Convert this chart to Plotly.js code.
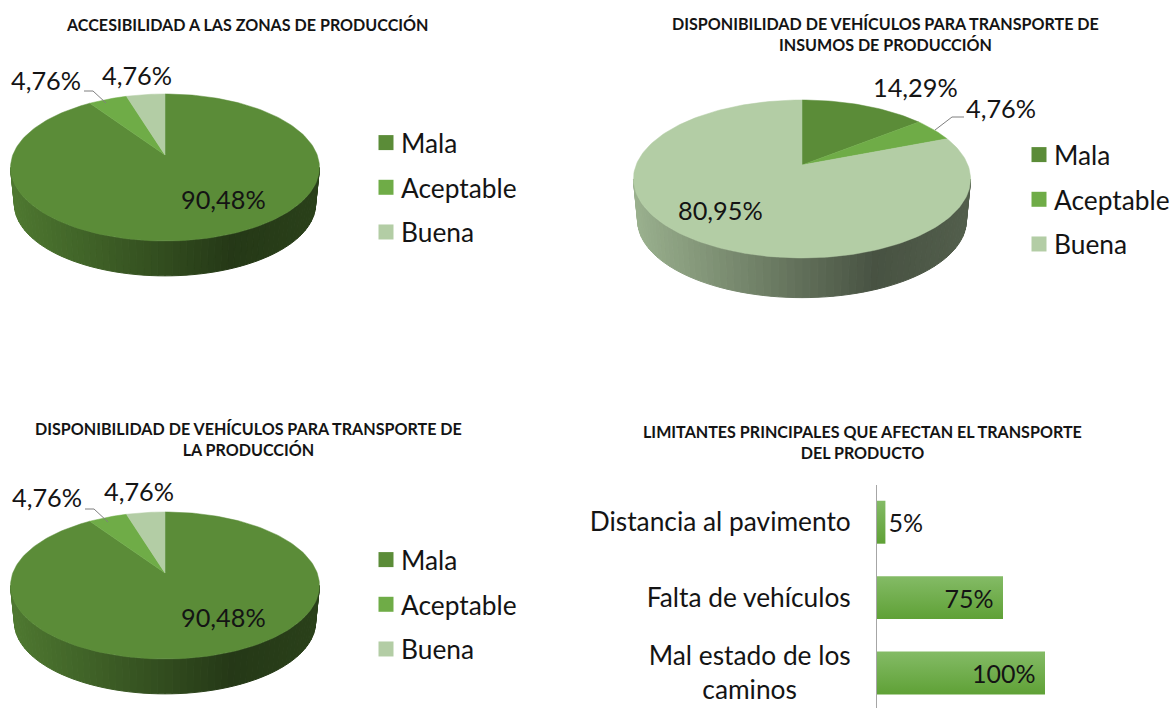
<!DOCTYPE html>
<html><head><meta charset="utf-8">
<script src="https://cdn.plot.ly/plotly-3.0.1.min.js"></script>
<style>html,body{margin:0;padding:0;background:#fff}#c{width:1172px;height:708px}</style></head>
<body><div id="c"></div>
<script>
const sliceNames = ['Mala','Aceptable','Buena'];
const accesibilidad = [90.48,4.76,4.76];
const insumos = [14.29,4.76,80.95];
const produccion = [90.48,4.76,4.76];
const barCategories = ['Mal estado de los<br>caminos'+'\u00a0'.repeat(8),'Falta de vehículos','Distancia al pavimento'];
const barValues = [100,75,5];
const titles = ['ACCESIBILIDAD A LAS ZONAS DE PRODUCCIÓN',
 'DISPONIBILIDAD DE VEHÍCULOS PARA TRANSPORTE DE<br>INSUMOS DE PRODUCCIÓN',
 'DISPONIBILIDAD DE VEHÍCULOS PARA TRANSPORTE DE<br>LA PRODUCCIÓN',
 'LIMITANTES PRINCIPALES QUE AFECTAN EL TRANSPORTE<br>DEL PRODUCTO'];
const sliceColors = ['#5B8C38','#6FAC47','#B3CDA5'];
const TXT = '#141414';
const FONT = 'Lato, Carlito, Calibri, sans-serif';

// perspective disc: geometry of each drawing on the page
function proj(g,th,down){
  const w = 1+g.k*Math.cos(th), s = down?g.shrink:1;
  return [g.cx + s*g.A*Math.sin(th)/w, g.cy - s*g.B*Math.cos(th)/w + (down?g.d:0)];
}
function shade(hex,f){
  const n=parseInt(hex.slice(1),16);
  return 'rgb('+[n>>16,(n>>8)&255,n&255].map(v=>Math.round(v*f)).join(',')+')';
}
const traces=[];
function pieTraces(vals,g,legendId){
  const total=vals.reduce((a,b)=>a+b,0);
  const edges=[0]; vals.forEach(v=>edges.push(edges[edges.length-1]+v/total*2*Math.PI));
  // side wall
  const thR=Math.acos(-g.k), thL=2*Math.PI-thR, N=70;
  const left=proj(g,thL)[0], right=proj(g,thR)[0];
  for(let i=0;i<N;i++){
    const a=thR+(thL-thR)*i/N, b=thR+(thL-thR)*(i+1)/N, m=(a+b)/2;
    const idx=edges.findIndex((e,j)=>j>0&&m<e)-1;
    const t=(proj(g,m)[0]-left)/(right-left);
    const f= t<0.72 ? 0.86-0.46*(t/0.72) : 0.40+0.06*((t-0.72)/0.28);
    const pts=[proj(g,a),proj(g,b),proj(g,b,true),proj(g,a,true)];
    pts.push(pts[0]);
    const col=shade(sliceColors[idx],f);
    traces.push({type:'scatter',mode:'lines',x:pts.map(p=>p[0]),y:pts.map(p=>p[1]),fill:'toself',
      fillcolor:col,line:{color:col,width:1},hoverinfo:'skip',showlegend:false});
  }
  // top face wedges, clockwise from 12 o'clock
  vals.forEach((v,i)=>{
    const n=Math.max(6,Math.round(v*2.4)), xs=[g.cx], ys=[g.cy];
    for(let j=0;j<=n;j++){
      const p=proj(g,edges[i]+(edges[i+1]-edges[i])*j/n); xs.push(p[0]); ys.push(p[1]);
    }
    xs.push(g.cx); ys.push(g.cy);
    traces.push({type:'scatter',mode:'lines',x:xs,y:ys,fill:'toself',fillcolor:sliceColors[i],
      line:{color:sliceColors[i],width:0.5},name:sliceNames[i],hoverinfo:'name',showlegend:false});
  });
  // legend entries
  vals.forEach((v,i)=>traces.push({type:'scatter',mode:'markers',x:[null],y:[null],name:sliceNames[i],
    marker:{symbol:'square',size:15,color:sliceColors[i]},legend:legendId,legendgroup:legendId+i,hoverinfo:'skip'}));
}
pieTraces(accesibilidad,{cx:165,cy:155,A:152.2,B:71.4,k:0.17,d:37,shrink:0.975},'legend');
pieTraces(insumos,{cx:802,cy:165,A:165.9,B:76.5,k:0.177,d:42,shrink:0.975},'legend2');
pieTraces(produccion,{cx:165,cy:573,A:152.2,B:71.4,k:0.17,d:37,shrink:0.975},'legend3');

traces.push({type:'bar',orientation:'h',x:barValues,y:barCategories,xaxis:'x2',yaxis:'y2',
  marker:{color:'#6FAB49'},text:barValues.map(v=>v<10?v+'%':v+'%\u00a0'),
  textposition:barValues.map(v=>v<10?'outside':'inside'),insidetextanchor:'end',
  textangle:0,cliponaxis:false,constraintext:'none',
  textfont:{family:FONT,size:25,color:TXT},showlegend:false,hoverinfo:'x+y'});

const pct=v=>v.toFixed(2).replace('.',',')+'%';
function lab(text,x,y){return {text,x,y,xref:'x',yref:'y',showarrow:false,xanchor:'center',yanchor:'middle',
  font:{family:FONT,size:25.3,color:TXT}};}
function ttl(text,x,y){return {text,x,y,xref:'x',yref:'y',showarrow:false,xanchor:'center',yanchor:'middle',align:'center',
  font:{family:FONT,size:16.1,color:TXT,weight:700}};}
const annotations=[
 ttl(titles[0],247.5,24),ttl(titles[1],885,34),ttl(titles[2],248,439),ttl(titles[3],862,442),
 lab(pct(accesibilidad[0]),223,199),lab(pct(accesibilidad[1]),46,80),lab(pct(accesibilidad[2]),137,75),
 lab(pct(insumos[0]),915,87),lab(pct(insumos[1]),1001,108),lab(pct(insumos[2]),720,210),
 lab(pct(produccion[0]),223,617),lab(pct(produccion[1]),47,497),lab(pct(produccion[2]),139,491)
];
const leader=(x0,y0,x1,y1,x2,y2)=>({type:'path',xref:'x',yref:'y',path:`M${x0},${y0}L${x1},${y1}L${x2},${y2}`,
  line:{color:'#7f7f7f',width:1}});
const shapes=[leader(84,91,93,91,106,103),leader(964,117,952,117,935,130),leader(85,509,94,509,108,522)];
const leg=(x,y)=>({x:x/1172,y:1-y/708,xanchor:'left',yanchor:'top',bgcolor:'rgba(0,0,0,0)',tracegroupgap:7.5,
  font:{family:FONT,size:26.3,color:TXT},itemclick:false,itemdoubleclick:false});
const layout={width:1172,height:708,margin:{l:0,r:0,t:0,b:0,autoexpand:false},paper_bgcolor:'#fff',plot_bgcolor:'#fff',
  font:{family:FONT},hovermode:'closest',
  xaxis:{range:[0,1172],domain:[0,1],visible:false,fixedrange:true},
  yaxis:{range:[708,0],domain:[0,1],visible:false,fixedrange:true},
  xaxis2:{domain:[877/1172,1045/1172],range:[0,100],anchor:'y2',visible:false,fixedrange:true},
  yaxis2:{domain:[0,1-484.5/708],range:[-0.4636,2.5],anchor:'x2',type:'category',categoryorder:'array',
    categoryarray:barCategories,showline:true,linecolor:'#a6a6a6',linewidth:1,showgrid:false,zeroline:false,
    ticks:'outside',ticklen:20,tickcolor:'rgba(0,0,0,0)',tickfont:{family:FONT,size:26.3,color:TXT},fixedrange:true},
  bargap:0.43,
  legend:leg(361,119),legend2:leg(1014,131),legend3:leg(361,536),
  annotations,shapes};
Plotly.newPlot('c',traces,layout,{displayModeBar:false,responsive:false}).then(gd=>{
  // legend squares sit closer to their text; bars carry a soft vertical gradient
  gd.querySelectorAll('.legendpoints').forEach(n=>n.setAttribute('transform','translate(5,0)'));
  const svg=gd.querySelector('.main-svg');
  const NS='http://www.w3.org/2000/svg';
  const lg=document.createElementNS(NS,'linearGradient');
  lg.setAttribute('id','barGrad'); lg.setAttribute('x1','0'); lg.setAttribute('y1','0'); lg.setAttribute('x2','0'); lg.setAttribute('y2','1');
  [['0','#84BB66'],['1','#5FA136']].forEach(([o,c])=>{
    const s=document.createElementNS(NS,'stop'); s.setAttribute('offset',o); s.setAttribute('stop-color',c); lg.appendChild(s);
  });
  const defs=svg.querySelector('defs')||svg.insertBefore(document.createElementNS(NS,'defs'),svg.firstChild);
  defs.appendChild(lg);
  gd.querySelectorAll('.bars .point path').forEach(p=>{p.style.fill='url(#barGrad)';});
});
</script></body></html>
